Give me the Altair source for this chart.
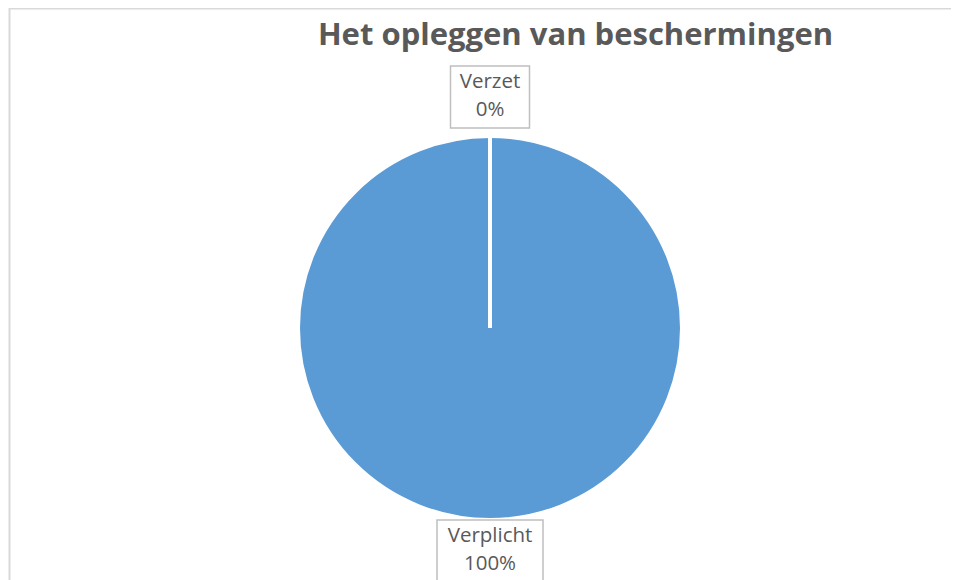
import altair as alt
import pandas as pd

# ---- data ----
categories = ["Verplicht", "Verzet"]
values = [100, 0]
order = [1, 0]
colors = ["#5B9BD5", "#ED7D31"]
title_text = "Het opleggen van beschermingen"

df = pd.DataFrame({"cat": categories, "value": values, "order": order})

W, H = 943, 580
CX, CY = 482, 320
R = 190

base = alt.Chart(df)

pie = base.mark_arc(radius=R + 2, stroke="white", strokeWidth=4).encode(
    theta=alt.Theta("value:Q", stack=True),
    order=alt.Order("order:Q"),
    color=alt.Color("cat:N", scale=alt.Scale(domain=categories, range=colors), legend=None),
    x=alt.value(CX),
    y=alt.value(CY),
)

lab = (
    base.transform_joinaggregate(total="sum(value)")
    .transform_window(cum="sum(value)", sort=[alt.SortField("order")], frame=[None, 0])
    .transform_calculate(
        mid="(datum.cum - datum.value/2) / datum.total * 2 * PI",
        lr="227 + 4 * cos(datum.mid)",
        px=f"{CX} + datum.lr * sin(datum.mid)",
        py=f"{CY} - datum.lr * cos(datum.mid)",
        bw="max(length(datum.cat), 4) * 9 + 25",
        px0="datum.px - datum.bw/2",
        px1="datum.px + datum.bw/2",
        py0="datum.py - 31",
        py1="datum.py + 31",
        label="datum.cat + '\\n' + format(datum.value / datum.total, '.0%')",
    )
)

boxes = lab.mark_rect(fill="white", stroke="#BFBFBF", strokeWidth=1.5).encode(
    x=alt.X("px0:Q", scale=None, axis=None),
    x2="px1:Q",
    y=alt.Y("py0:Q", scale=None, axis=None),
    y2="py1:Q",
)

texts = lab.mark_text(
    font="Open Sans", fontSize=20.5, color="#595959", lineBreak="\n", lineHeight=28,
    align="center", baseline="middle", dy=-15,
).encode(
    x=alt.X("px:Q", scale=None, axis=None),
    y=alt.Y("py:Q", scale=None, axis=None),
    text="label:N",
)

title = alt.Chart(pd.DataFrame({"t": [title_text]})).mark_text(
    font="Open Sans", fontSize=31, fontWeight="bold", color="#595959",
    align="center", baseline="alphabetic",
).encode(text="t:N", x=alt.value(567.5), y=alt.value(37))

frame_df = pd.DataFrame({"k": [0]})
top_line = alt.Chart(frame_df).mark_rule(color="#D9D9D9", strokeWidth=2).encode(
    x=alt.value(1.5), x2=alt.value(W), y=alt.value(0.5)
)
left_line = alt.Chart(frame_df).mark_rule(color="#D9D9D9", strokeWidth=2).encode(
    x=alt.value(1.5), y=alt.value(0), y2=alt.value(H)
)

chart = (
    alt.layer(top_line, left_line, pie, boxes, texts, title)
    .properties(width=W, height=H, padding=0, autosize=alt.AutoSizeParams(type="none"))
    .configure_view(stroke=None)
)

chart.save("out.html", embed_options={"renderer": "svg", "actions": False})
